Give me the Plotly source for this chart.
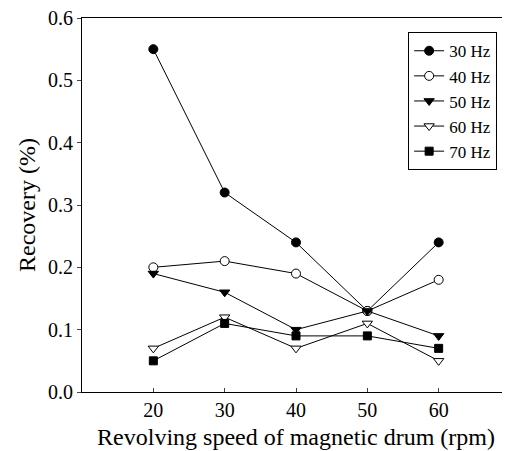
import plotly.graph_objects as go

speeds = [20, 30, 40, 50, 60]
hz30 = [0.55, 0.32, 0.24, 0.13, 0.24]
hz40 = [0.20, 0.21, 0.19, 0.13, 0.18]
hz50 = [0.19, 0.16, 0.10, 0.13, 0.09]
hz60 = [0.07, 0.12, 0.07, 0.11, 0.05]
hz70 = [0.05, 0.11, 0.09, 0.09, 0.07]
names = ["30 Hz", "40 Hz", "50 Hz", "60 Hz", "70 Hz"]
x_ticks = [20, 30, 40, 50, 60]
y_ticks = [0.0, 0.1, 0.2, 0.3, 0.4, 0.5, 0.6]

series = [hz30, hz40, hz50, hz60, hz70]
symbols = ["circle", "circle", "triangle-down", "triangle-down", "square"]
fills = ["black", "white", "black", "white", "black"]
sizes = [9, 9, 9, 9, 8]

fig = go.Figure()
for name, vals, sym, fill, sz in zip(names, series, symbols, fills, sizes):
    fig.add_trace(go.Scatter(
        x=speeds, y=vals, name=name, mode="lines+markers",
        line=dict(color="black", width=1),
        marker=dict(symbol=sym, size=sz, color=fill,
                    line=dict(color="black", width=1)),
    ))

font = "Liberation Serif, Times New Roman, serif"
fig.update_layout(
    width=510, height=451,
    margin=dict(l=74, r=8, t=10, b=67),
    paper_bgcolor="white", plot_bgcolor="white",
    font=dict(family=font, size=20, color="black"),
    showlegend=True,
    legend=dict(x=0.762, y=0.962, xanchor="left", yanchor="top",
                bordercolor="black", borderwidth=1, bgcolor="white",
                font=dict(family=font, size=17), tracegroupgap=0, itemwidth=30),
)
fig.update_xaxes(
    range=[10, 70], tickvals=x_ticks, ticks="inside", ticklen=4,
    showline=True, linecolor="black", linewidth=1, mirror=True,
    showgrid=False, zeroline=False, automargin=False,
    title=dict(text="Revolving speed of magnetic drum (rpm)", font=dict(size=24), standoff=8),
    tickfont=dict(size=20),
)
fig.update_yaxes(
    range=[0, 0.6], tickvals=y_ticks, ticktext=[f"{v:.1f}" for v in y_ticks],
    ticks="outside", ticklen=4, ticklabeloverflow="allow",
    showline=True, linecolor="black", linewidth=1, mirror=False,
    showgrid=False, zeroline=False, automargin=False,
    title=dict(text="Recovery (%)", font=dict(size=24), standoff=5),
    tickfont=dict(size=20),
)
fig.write_html("out.html")
